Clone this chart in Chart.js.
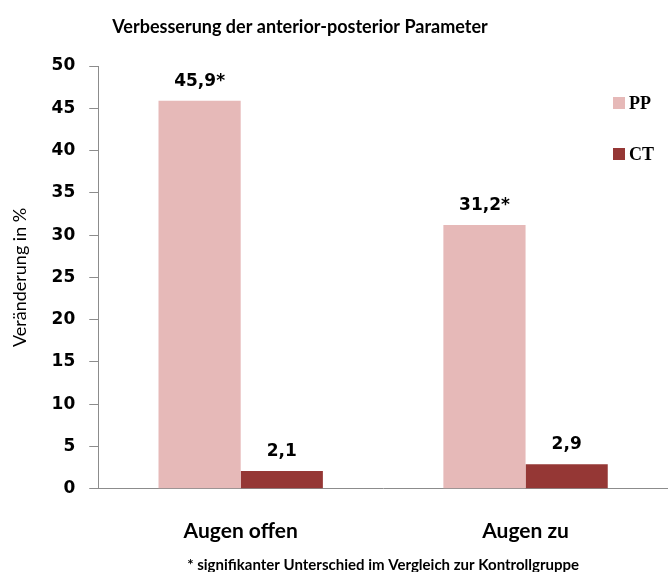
<!DOCTYPE html>
<html><head><meta charset="utf-8">
<script src="https://cdn.jsdelivr.net/npm/chart.js@4/dist/chart.umd.min.js"></script>
<style>html,body{margin:0;padding:0;background:#fff}</style>
</head><body>
<canvas id="c" width="668" height="572"></canvas>
<script>
const categories = ['Augen offen', 'Augen zu'];
const seriesNames = ['PP', 'CT'];
const ppValues = [45.9, 31.2];
const ctValues = [2.1, 2.9];
const ppSignificant = [true, true];
const ctSignificant = [false, false];
const yMin = 0, yMax = 50, yStep = 5;
const chartTitle = 'Verbesserung der anterior-posterior Parameter';
const yAxisTitle = 'Veränderung in %';
const footnote = '* signifikanter Unterschied im Vergleich zur Kontrollgruppe';

const PP_COLOR = '#E6B9B8';
const CT_COLOR = '#953735';
const AXIS_COLOR = '#8C8C8C';

const fmt = v => v.toFixed(1).replace('.', ',');

const annotPlugin = {
  id: 'annot',
  afterDatasetsDraw(chart) {
    const ctx = chart.ctx;
    ctx.save();
    // value labels
    chart.data.datasets.forEach((ds, i) => {
      const meta = chart.getDatasetMeta(i);
      meta.data.forEach((bar, j) => {
        const txt = fmt(ds.data[j]) + (ds.significant[j] ? '*' : '');
        ctx.font = 'bold 17px "DejaVu Sans"';
        ctx.fillStyle = '#000';
        ctx.textAlign = 'center';
        ctx.textBaseline = 'alphabetic';
        ctx.fillText(txt, bar.x, bar.y - 15);
      });
    });
    // title
    ctx.font = 'bold 18px Lato';
    ctx.fillStyle = '#000';
    ctx.textAlign = 'center';
    ctx.textBaseline = 'middle';
    ctx.fillText(chartTitle, 300, 27);
    // legend
    chart.data.datasets.forEach((ds, i) => {
      const y = 103 + i * 51;
      ctx.fillStyle = ds.backgroundColor;
      ctx.fillRect(613, y - 6, 12, 12);
      ctx.fillStyle = '#000';
      ctx.font = 'bold 18px "Liberation Serif"';
      ctx.textAlign = 'left';
      ctx.textBaseline = 'middle';
      ctx.fillText(ds.label, 629, y + 1);
    });
    ctx.restore();
  }
};

new Chart(document.getElementById('c'), {
  type: 'bar',
  data: {
    labels: categories,
    datasets: [
      { label: seriesNames[0], data: ppValues, significant: ppSignificant, backgroundColor: PP_COLOR },
      { label: seriesNames[1], data: ctValues, significant: ctSignificant, backgroundColor: CT_COLOR }
    ]
  },
  options: {
    responsive: false,
    animation: false,
    devicePixelRatio: 1,
    layout: { padding: { top: 66, left: 0, right: 0, bottom: -2 } },
    datasets: { bar: { categoryPercentage: 0.577, barPercentage: 1.0 } },
    plugins: {
      legend: { display: false },
      title: { display: false },
      tooltip: { enabled: false }
    },
    scales: {
      x: {
        grid: { display: true, drawOnChartArea: false, drawTicks: false, color: AXIS_COLOR },
        border: { display: true, color: AXIS_COLOR, width: 1 },
        ticks: { color: '#000', font: { family: 'Lato', weight: 'bold', size: 21 }, padding: 30 },
        title: { display: true, text: footnote, color: '#000', font: { family: 'Lato', weight: 'bold', size: 15 }, padding: { top: -18, bottom: 0 } }
      },
      y: {
        min: yMin, max: yMax,
        grid: { display: true, drawOnChartArea: false, drawTicks: true, tickLength: 9, color: AXIS_COLOR },
        border: { display: true, color: AXIS_COLOR, width: 1 },
        ticks: { stepSize: yStep, color: '#000', font: { family: 'DejaVu Sans', weight: 'bold', size: 17 }, padding: 14 },
        title: { display: true, text: yAxisTitle, color: '#000', font: { family: 'Lato', size: 18 }, padding: { top: 9, bottom: 7 } }
      }
    }
  },
  plugins: [annotPlugin]
});
</script>
</body></html>
